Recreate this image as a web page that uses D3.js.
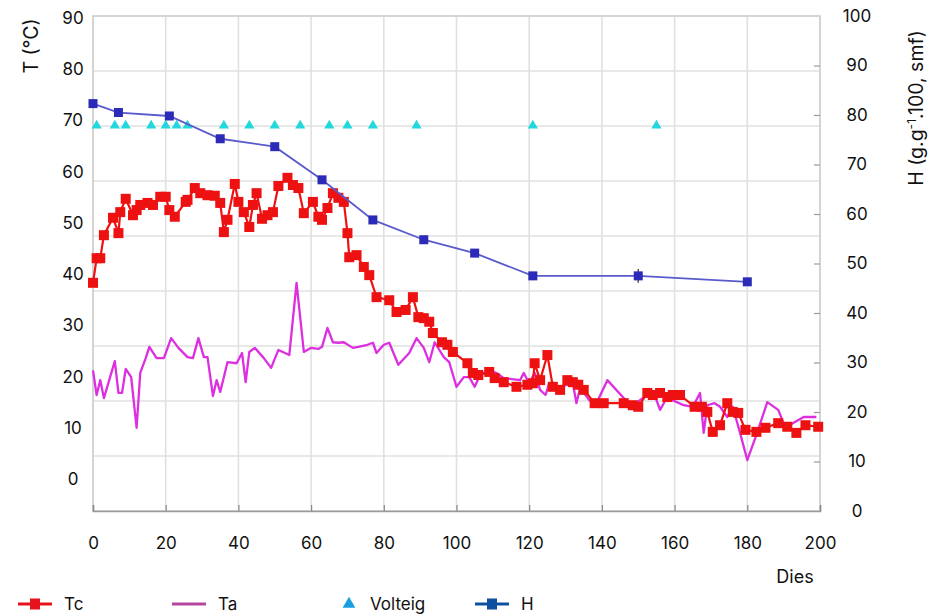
<!DOCTYPE html>
<html>
<head>
<meta charset="utf-8">
<script src="https://cdn.jsdelivr.net/npm/d3@7/dist/d3.min.js"></script>
<style>
  html, body { margin: 0; padding: 0; background: #fff; }
  svg { display: block; }
  text { font-family: Inter, "Open Sans", "DejaVu Sans", sans-serif; fill: #111; }
</style>
</head>
<body>
<svg id="chart" width="930" height="615"></svg>
<script>
// ---------------- DATA ----------------
const xTicks = [0, 20, 40, 60, 80, 100, 120, 140, 160, 180, 200];
const leftTicks = [0, 10, 20, 30, 40, 50, 60, 70, 80, 90];
const rightTicks = [0, 10, 20, 30, 40, 50, 60, 70, 80, 90, 100];

// Tc : core temperature (°C), days
const tcDays = [0,1,2,3,5.5,7,7.5,9,11,12,13,15,16.5,18.5,20,21,22.5,25.5,26,28,29.5,31.5,33.5,35,36,37,39,40,41.5,43,44,45,46.5,48,49.5,51,53.5,55,56.5,58,60.5,62,63,64.5,66,67.5,69,70,70.5,72.5,74.5,76,78,81.5,83.5,86,88,89.5,91,92.5,93.5,96,97.5,99,103,104.5,106,109,110.5,113,116.5,119.5,121,121.5,123,125,126.5,128.5,130.5,132,133.5,135,138,140.5,146,148.5,150,152.5,154,156,158,159.5,161.5,165.5,167.5,169,170.5,172.5,174.5,176,177.5,179.5,182.5,185,188.5,191,193.5,196,199.5];
const tcVals = [38.3,43.1,43.1,47.6,51,48,52.1,54.7,51.5,52.5,53.5,53.9,53.5,55.1,55.1,52.5,51.2,54.1,54.5,56.8,55.8,55.4,55.3,53.9,48.2,50.6,57.6,54.1,52.1,49.2,53.5,55.8,50.8,51.5,52.1,57.2,58.8,57.4,56.8,51.9,54.1,51.2,50.6,52.9,55.8,54.9,54.1,48,43.3,43.7,41.4,39.8,35.5,34.9,32.6,33,35.5,31.6,31.4,30.7,28.5,26.7,26.2,24.8,22.6,20.7,20.3,20.9,19.7,18.9,18,18.4,18.7,22.6,19.3,24.2,18,17.4,19.3,18.9,18.4,17.4,14.8,14.8,14.8,14.4,14.1,16.8,16.4,16.8,16,16.4,16.4,14.1,14.1,13.1,9.2,10.5,14.8,13.1,12.9,9.6,9.2,10,10.9,10.2,9,10.5,10.2];

// Ta : ambient temperature (°C)
const taDays = [0,1,2,3,6,7,8,9,10.5,12,13,14.5,15.5,17.5,19.5,21.5,23.5,26,27.5,29,30.5,31.5,33,34,35,37,39.5,41,42,43,44.5,47,49,51,54,56,58,60,62,63,64.5,66,67.5,69,71.5,73,75.5,77,78,80,81.5,84,87,89,91,92.5,94,96.5,98,100,102,103.5,105,106.5,109,111,113,117.5,118.5,120,121.5,123,124.5,125.5,127.5,130.5,132,133,134,136.5,138.5,141.5,146,148.5,152.5,154.5,156,158,160,162.5,165,167,168,169,171,172.5,174.5,176,178,180,182.5,185.5,188.5,190.5,192.5,195.5,199];
const taVals = [21.2,16.4,19.3,15.8,23,16.8,16.8,21.5,19.9,10,20.7,23.6,25.8,23.6,23.6,27.5,25.6,23.8,23.6,27.5,23.8,23.8,16.2,19.3,17,22.8,22.6,24.6,18.9,24.8,25.6,23.6,21.7,25.2,24.2,38.3,24.8,25.6,25.4,25.8,29.5,26.7,26.6,26.7,25.6,25.8,26.2,26.6,24.6,26.2,26.6,22.3,24.6,27.5,25.6,22.8,26.7,23.8,22.8,18,19.9,19.9,18,20.3,21.3,20.7,19.7,19.3,20.7,18.7,20.7,17.4,16.4,18.7,17.8,18.4,18.7,14.8,17.8,15.4,14.8,19.3,15.8,14.4,16.4,16.4,13.5,16,15.2,14.4,14.1,16.8,9,14.4,14.8,14.1,12.1,14.1,9,3.7,8.6,15,13.5,10,10.9,12.1,12.1];

// Volteig : turning days (plotted on T axis)
const volteigDays = [1,6,9,16,20,23,26,36,43,50,57,65,70,77,89,121,155];
const volteigVal = 69;

// H : moisture (g.g-1.100, smf), right axis
const hDays = [0,7,21,35,50,63,77,91,105,121,150,180];
const hVals = [82.3,80.5,79.8,75.2,73.6,66.9,58.8,54.8,52.1,47.5,47.5,46.3];
const hErr  = [0,0,0,0,0,0,0,0,0,0,1.4,0];

const legendItems = [
  {label: "Tc", type: "sq", color: "#e8121c"},
  {label: "Ta", type: "line", color: "#b4469f"},
  {label: "Volteig", type: "tri", color: "#1b9ee0"},
  {label: "H", type: "sq", color: "#0f4fa0"}
];

// ---------------- DRAW ----------------
const svg = d3.select("#chart");
const L = 93, R = 820, T = 16, B = 511;

const x = d3.scaleLinear().domain([0, 200]).range([L, R]);
const yL = d3.scaleLinear().domain([0, 90]).range([479, 18]);
const yR = d3.scaleLinear().domain([0, 100]).range([B, T]);
const yGrid = d3.scaleLinear().domain([0, 9]).range([B, T]);

// grid
const grid = svg.append("g");
grid.selectAll("line.h").data(d3.range(0, 10)).join("line")
  .attr("x1", L).attr("x2", R)
  .attr("y1", d => yGrid(d)).attr("y2", d => yGrid(d))
  .attr("stroke", "#e0e0e0").attr("stroke-width", 1.6);
grid.selectAll("line.v").data(xTicks).join("line")
  .attr("x1", d => x(d)).attr("x2", d => x(d))
  .attr("y1", T).attr("y2", B)
  .attr("stroke", "#e0e0e0").attr("stroke-width", 1.6);
// frame
svg.append("rect").attr("x", L).attr("y", T).attr("width", R - L).attr("height", B - T)
  .attr("fill", "none").attr("stroke", "#d0d0d0").attr("stroke-width", 1.6);

// bottom axis
const xAxis = svg.append("g").attr("transform", `translate(0,${B})`)
  .call(d3.axisBottom(x).tickValues(xTicks).tickSize(-6).tickPadding(26).tickFormat(d3.format("d")));
xAxis.select(".domain").attr("stroke", "#9a9a9a").attr("stroke-width", 1.6);
xAxis.selectAll(".tick line").attr("stroke", "#888").attr("stroke-width", 1.2);
xAxis.selectAll("text").attr("font-size", 17).attr("fill", "#111");

// left axis (labels only)
const yAxisL = svg.append("g").attr("transform", `translate(${L},0)`)
  .call(d3.axisLeft(yL).tickValues(leftTicks).tickSize(0).tickFormat(d3.format("d")));
yAxisL.select(".domain").remove();
yAxisL.selectAll("text").attr("x", -20).attr("text-anchor", "middle").attr("font-size", 17).attr("fill", "#111");

// right axis
const yAxisR = svg.append("g").attr("transform", `translate(${R},0)`)
  .call(d3.axisRight(yR).tickValues(rightTicks).tickSize(-6).tickFormat(d3.format("d")));
yAxisR.select(".domain").remove();
yAxisR.selectAll(".tick line").attr("stroke", "#999").attr("stroke-width", 1.2)
  .style("display", d => (d === 0 || d === 100) ? "none" : null);
yAxisR.selectAll("text").attr("x", 37).attr("text-anchor", "middle").attr("font-size", 17).attr("fill", "#111");

// axis titles
svg.append("text").attr("transform", "translate(38,46) rotate(-90)")
  .attr("text-anchor", "middle").attr("font-size", 19.5).text("T (°C)");
const rt = svg.append("text").attr("transform", "translate(923,108) rotate(-90)")
  .attr("text-anchor", "middle").attr("font-size", 19.5);
rt.append("tspan").text("H (g.g");
rt.append("tspan").attr("font-size", 12).attr("dy", -7).text("-1");
rt.append("tspan").attr("dy", 7).text(".100, smf)");
svg.append("text").attr("x", 795).attr("y", 583).attr("text-anchor", "middle")
  .attr("font-size", 18).text("Dies");

// Ta line
const taData = taDays.map((d, i) => [d, taVals[i]]);
svg.append("path").datum(taData)
  .attr("fill", "none").attr("stroke", "#dd2ee0").attr("stroke-width", 2.3).attr("stroke-linejoin", "round")
  .attr("d", d3.line().x(d => x(d[0])).y(d => yL(d[1])));

// Tc line + squares
const tcData = tcDays.map((d, i) => [d, tcVals[i]]);
svg.append("path").datum(tcData)
  .attr("fill", "none").attr("stroke", "#ee1111").attr("stroke-width", 2.2)
  .attr("d", d3.line().x(d => x(d[0])).y(d => yL(d[1])));
svg.append("g").selectAll("rect").data(tcData).join("rect")
  .attr("x", d => x(d[0]) - 5).attr("y", d => yL(d[1]) - 5)
  .attr("width", 10).attr("height", 10).attr("fill", "#ee1111");

// Volteig triangles
const tri = d3.symbol().type(d3.symbolTriangle).size(45);
svg.append("g").selectAll("path").data(volteigDays).join("path")
  .attr("transform", d => `translate(${x(d)},${yL(volteigVal)})`)
  .attr("d", tri).attr("fill", "#22d8dc");

// H line + squares + error bar
const hData = hDays.map((d, i) => [d, hVals[i], hErr[i]]);
svg.append("path").datum(hData)
  .attr("fill", "none").attr("stroke", "#5a5acd").attr("stroke-width", 1.8)
  .attr("d", d3.line().x(d => x(d[0])).y(d => yR(d[1])));
svg.append("g").selectAll("line").data(hData.filter(d => d[2] > 0)).join("line")
  .attr("x1", d => x(d[0])).attr("x2", d => x(d[0]))
  .attr("y1", d => yR(d[1] - d[2])).attr("y2", d => yR(d[1] + d[2]))
  .attr("stroke", "#555").attr("stroke-width", 1.5);
svg.append("g").selectAll("rect").data(hData).join("rect")
  .attr("x", d => x(d[0]) - 4.5).attr("y", d => yR(d[1]) - 4.5)
  .attr("width", 9).attr("height", 9).attr("fill", "#2b2bb8");

// legend
const legX = [18, 172, 340, 475];
const lg = svg.append("g").attr("transform", "translate(0,604)");
legendItems.forEach((it, i) => {
  const g = lg.append("g").attr("transform", `translate(${legX[i]},0)`);
  if (it.type === "sq" || it.type === "line") {
    g.append("line").attr("x1", 0).attr("x2", 34).attr("y1", 0).attr("y2", 0)
      .attr("stroke", it.color).attr("stroke-width", 3);
  }
  if (it.type === "sq") {
    g.append("rect").attr("x", 12).attr("y", -5.5).attr("width", 10).attr("height", 11).attr("fill", it.color);
  }
  if (it.type === "tri") {
    g.append("path").attr("transform", "translate(9,0)")
      .attr("d", d3.symbol().type(d3.symbolTriangle).size(70)).attr("fill", it.color);
  }
  const tx = it.type === "tri" ? 30 : 46;
  g.append("text").attr("x", tx).attr("y", 6).attr("font-size", 17).text(it.label);
});
</script>
</body>
</html>
